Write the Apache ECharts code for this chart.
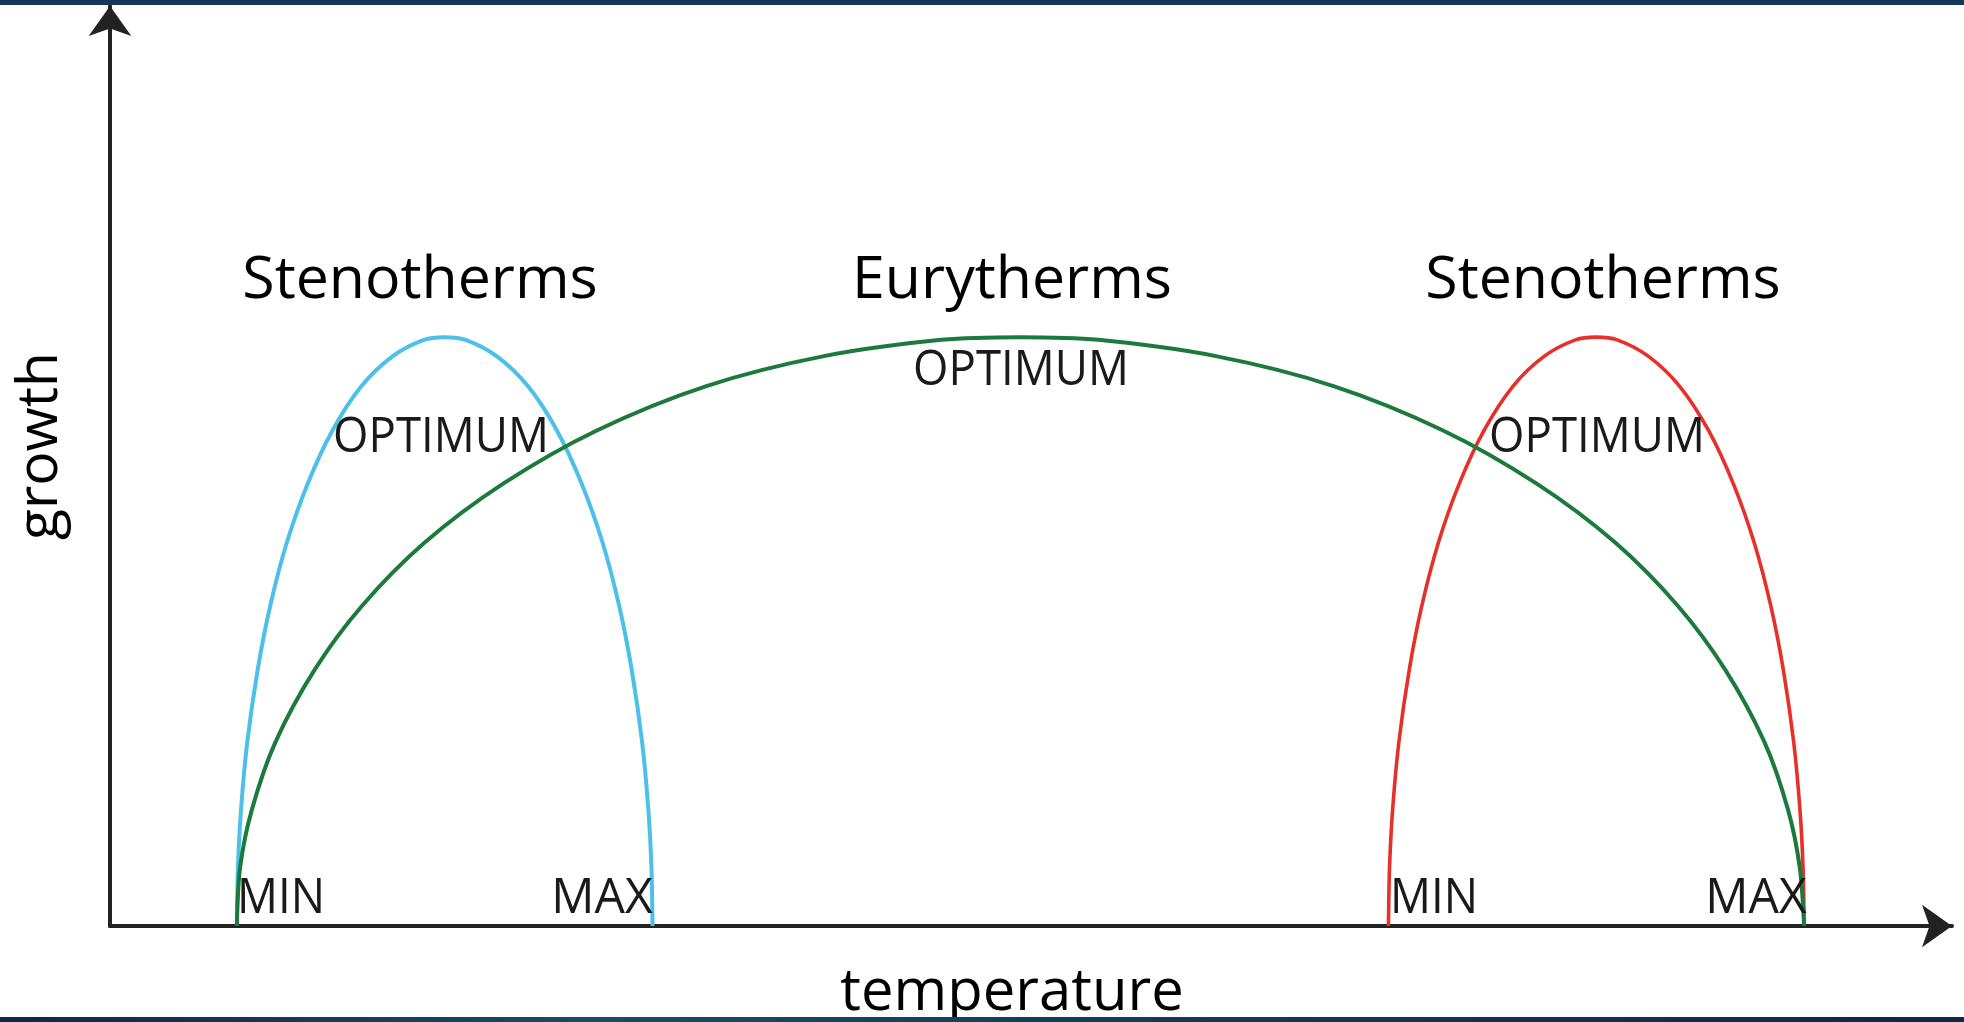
<!DOCTYPE html>
<html>
<head>
<meta charset="utf-8">
<script src="https://cdn.jsdelivr.net/npm/echarts@6/dist/echarts.min.js"></script>
<style>
  html, body { margin: 0; padding: 0; background: #ffffff; }
  #chart { width: 1964px; height: 1022px; }
</style>
</head>
<body>
<div id="chart"></div>
<script>
// ---- Data (temperature on x, growth on y; arbitrary units) ----
const blueTemp   = [6.94, 7.00, 7.17, 7.51, 8.08, 8.76, 9.67, 10.81, 12.17, 13.76, 15.47, 17.17, 18.31, 19.45, 21.15, 22.86, 24.45, 25.81, 26.95, 27.86, 28.54, 29.11, 29.45, 29.62, 29.68];
const blueGrowth = [0, 6.5, 12.9, 20.3, 28.3, 35.3, 42.3, 48.8, 54.7, 59.6, 62.9, 64.7, 65.0, 64.7, 62.9, 59.6, 54.7, 48.8, 42.3, 35.3, 28.3, 20.3, 12.9, 6.5, 0];

const greenTemp   = [6.94, 7.12, 7.77, 9.05, 11.20, 13.77, 17.20, 21.49, 26.63, 32.63, 39.06, 45.49, 49.78, 54.07, 60.50, 66.93, 72.93, 78.07, 82.36, 85.79, 88.36, 90.51, 91.79, 92.44, 92.68];
const greenGrowth = [0, 6.5, 12.9, 20.3, 28.3, 35.3, 42.3, 48.8, 54.7, 59.6, 62.9, 64.7, 65.0, 64.7, 62.9, 59.6, 54.7, 48.8, 42.3, 35.3, 28.3, 20.3, 12.9, 6.5, 0];

const redTemp   = [69.94, 70.00, 70.17, 70.51, 71.08, 71.76, 72.67, 73.81, 75.17, 76.76, 78.47, 80.17, 81.31, 82.45, 84.15, 85.86, 87.45, 88.81, 89.95, 90.86, 91.54, 92.11, 92.45, 92.62, 92.68];
const redGrowth = [0, 6.5, 12.9, 20.3, 28.3, 35.3, 42.3, 48.8, 54.7, 59.6, 62.9, 64.7, 65.0, 64.7, 62.9, 59.6, 54.7, 48.8, 42.3, 35.3, 28.3, 20.3, 12.9, 6.5, 0];

const xRange = [0, 100.77];
const yRange = [0, 101.55];

const groupNames = ['Stenotherms', 'Eurytherms', 'Stenotherms'];
const pointNames = ['MIN', 'OPTIMUM', 'MAX'];
const xAxisName = 'temperature';
const yAxisName = 'growth';

function zip(xs, ys) { return xs.map((x, i) => [x, ys[i]]); }

const chart = echarts.init(document.getElementById('chart'), null, { renderer: 'canvas' });

const FONT = '"Open Sans", "Noto Sans", sans-serif';
function txt(text, x, y, size, opts) {
  opts = opts || {};
  return {
    type: 'text',
    x: x, y: y,
    rotation: opts.rotation || 0,
    scaleX: opts.scaleX || 1,
    z: 10,
    style: {
      text: text,
      font: (opts.weight || 'normal') + ' ' + size + 'px ' + FONT,
      fill: opts.color || '#1a1a1a',
      align: opts.align || 'center',
      verticalAlign: 'middle'
    }
  };
}

const axisCommon = {
  type: 'value',
  axisLine: { show: true, onZero: false, symbol: ['none', 'arrow'], symbolSize: [32, 30],
    lineStyle: { color: '#222222', width: 4 } },
  axisTick: { show: false }, axisLabel: { show: false }, splitLine: { show: false }
};

const option = {
  backgroundColor: '#ffffff',
  animation: false,
  grid: { left: 110, right: 12, top: 6, bottom: 96, containLabel: false },
  xAxis: Object.assign({ min: xRange[0], max: xRange[1] }, axisCommon),
  yAxis: Object.assign({ min: yRange[0], max: yRange[1] }, axisCommon),
  series: [
    { name: 'Stenotherms (cold)', type: 'line', data: zip(blueTemp, blueGrowth), smooth: 0.3,
      showSymbol: false, lineStyle: { color: '#4dc0ea', width: 4 }, z: 2 },
    { name: 'Stenotherms (warm)', type: 'line', data: zip(redTemp, redGrowth), smooth: 0.3,
      showSymbol: false, lineStyle: { color: '#e8302a', width: 3.6 }, z: 2 },
    { name: 'Eurytherms', type: 'line', data: zip(greenTemp, greenGrowth), smooth: 0.3,
      showSymbol: false, lineStyle: { color: '#1b7a3c', width: 4 }, z: 3 }
  ],
  graphic: [
    { type: 'rect', shape: { x: 0, y: 0, width: 1964, height: 5 }, style: { fill: '#17365e' }, z: 20 },
    { type: 'rect', shape: { x: 0, y: 1017, width: 1964, height: 5 },
      style: { fill: new echarts.graphic.LinearGradient(0, 0, 1, 0, [
        { offset: 0, color: '#0d2846' }, { offset: 0.3, color: '#1c4a66' },
        { offset: 0.6, color: '#123a58' }, { offset: 1, color: '#0d2846' }]) }, z: 20 },
    txt(groupNames[0], 420, 281, 59, { color: '#000000', scaleX: 1.0 }),
    txt(groupNames[1], 1012, 281, 59, { color: '#000000', scaleX: 1.0 }),
    txt(groupNames[2], 1603, 281, 59, { color: '#000000', scaleX: 1.0 }),
    txt(pointNames[1], 441, 438, 49, { scaleX: 0.93 }),
    txt(pointNames[1], 1021, 371, 49, { scaleX: 0.93 }),
    txt(pointNames[1], 1597, 438, 49, { scaleX: 0.93 }),
    txt(pointNames[0], 281, 899, 49, { scaleX: 0.93 }),
    txt(pointNames[2], 602, 899, 49, { scaleX: 0.98 }),
    txt(pointNames[0], 1434, 899, 49, { scaleX: 0.93 }),
    txt(pointNames[2], 1756, 899, 49, { scaleX: 0.98 }),
    txt(xAxisName, 1012, 993, 58, { color: '#000000' }),
    txt(yAxisName, 41, 446, 57, { color: '#000000', rotation: Math.PI / 2 })
  ]
};

chart.setOption(option);
</script>
</body>
</html>
